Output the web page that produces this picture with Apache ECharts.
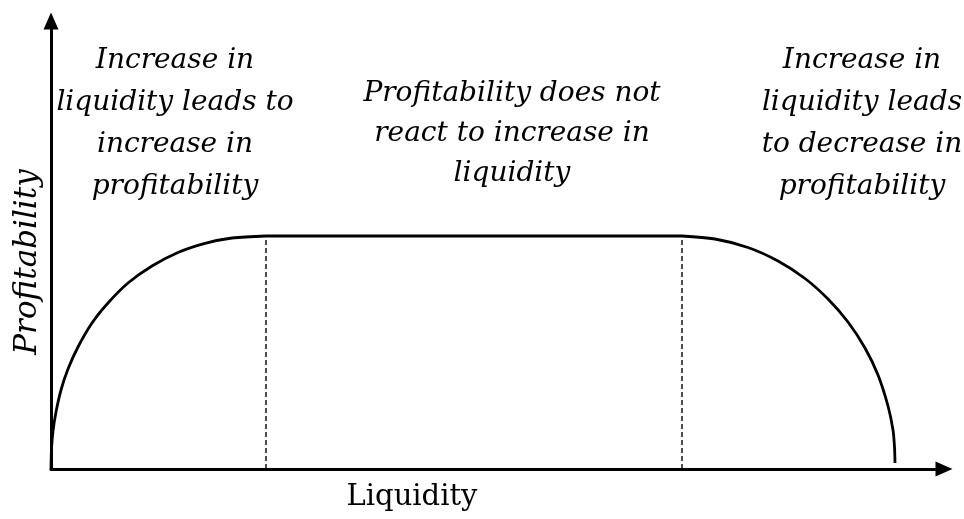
<!DOCTYPE html>
<html>
<head>
<meta charset="utf-8">
<script src="https://cdn.jsdelivr.net/npm/echarts@6/dist/echarts.min.js"></script>
<style>
  html, body { margin: 0; padding: 0; background: #fff; }
  #main { width: 964px; height: 519px; }
</style>
</head>
<body>
<div id="main"></div>
<script>
// 曲线上读出的点（x: 流动性, y: 盈利能力）
var leftArc = [[0, 0], [0.5, 20], [2, 38], [5, 57], [10, 79], [17, 100], [27, 122], [41, 146], [57, 166],
               [77, 186], [101, 203], [127, 216.5], [154, 225.6], [181, 231], [215, 233]];
var plateau = [[215, 233], [631, 233]];
var rightArc = [[631, 233], [664, 230], [697, 221.5], [727, 208], [754, 190.5], [777, 170], [797, 147],
                [814, 121], [827, 94], [837, 63], [842, 39], [843.5, 22], [844, 6]];
var dashLeft = [[215, 0], [215, 233]];
var dashRight = [[631, 0], [631, 233]];

var textLeft = 'Increase in\nliquidity leads to\nincrease in\nprofitability';
var textMiddle = 'Profitability does not\nreact to increase in\nliquidity';
var textRight = 'Increase in\nliquidity leads\nto decrease in\nprofitability';
var xName = 'Liquidity';
var yName = 'Profitability';

var chart = echarts.init(document.getElementById('main'));

var noteFont = 'italic 28px "DejaVu Serif"';

function curve(data) {
    return {
        type: 'line',
        data: data,
        smooth: 0.3,
        symbol: 'none',
        lineStyle: { color: '#000', width: 2.8 },
        z: 3
    };
}

function dash(data) {
    return {
        type: 'line',
        data: data,
        symbol: 'none',
        lineStyle: { color: '#000', width: 1.4, type: [5, 3] },
        z: 2
    };
}

var option = {
    animation: false,
    backgroundColor: '#fff',
    grid: { left: 51, right: 20, top: 21, bottom: 50 },
    xAxis: {
        type: 'value',
        min: 0,
        max: 893,
        axisLine: {
            onZero: false,
            lineStyle: { color: '#000', width: 3 },
            symbol: ['none', 'triangle'],
            symbolSize: [15, 17]
        },
        axisTick: { show: false },
        axisLabel: { show: false },
        splitLine: { show: false }
    },
    yAxis: {
        type: 'value',
        min: 0,
        max: 448,
        axisLine: {
            show: true,
            onZero: false,
            lineStyle: { color: '#000', width: 3 },
            symbol: ['none', 'triangle'],
            symbolSize: [15, 17]
        },
        axisTick: { show: false },
        axisLabel: { show: false },
        splitLine: { show: false }
    },
    graphic: [
        {
            type: 'text', x: 175, y: 40,
            style: { text: textLeft, font: noteFont, fill: '#000', align: 'center', verticalAlign: 'top', lineHeight: 42 }
        },
        {
            type: 'text', x: 512, y: 74,
            style: { text: textMiddle, font: noteFont, fill: '#000', align: 'center', verticalAlign: 'top', lineHeight: 40 }
        },
        {
            type: 'text', x: 862, y: 40,
            style: { text: textRight, font: noteFont, fill: '#000', align: 'center', verticalAlign: 'top', lineHeight: 42 }
        },
        {
            type: 'text', x: 28, y: 262, rotation: Math.PI / 2,
            style: { text: yName, font: 'italic 31px "DejaVu Serif"', fill: '#000', align: 'center', verticalAlign: 'middle' }
        },
        {
            type: 'text', x: 412, y: 497,
            style: { text: xName, font: '29px "DejaVu Serif"', fill: '#000', align: 'center', verticalAlign: 'middle' }
        }
    ],
    series: [
        curve(leftArc),
        curve(plateau),
        curve(rightArc),
        dash(dashLeft),
        dash(dashRight)
    ]
};

chart.setOption(option);
</script>
</body>
</html>
